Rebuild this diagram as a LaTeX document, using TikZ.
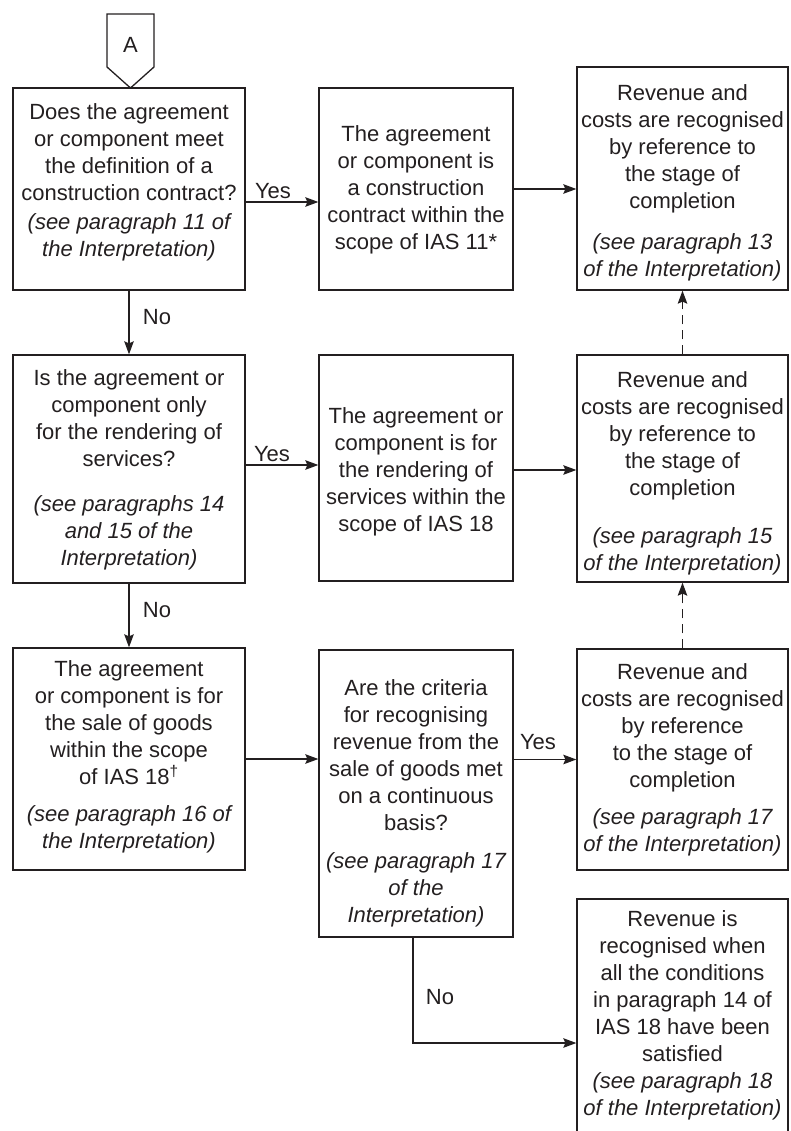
\documentclass[tikz,border=0pt]{standalone}
\usepackage{fontspec}
\setmainfont{Liberation Sans}
\usetikzlibrary{arrows.meta,calc}
\definecolor{ink}{HTML}{231F20}
\begin{document}
\begin{tikzpicture}[x=1pt,y=-1pt,
  box/.style={draw=ink, line width=1.3pt, inner sep=0pt, rectangle},
  txt/.style={text=ink, align=center, inner sep=0pt, font=\fontsize{22}{27}\selectfont},
  lbl/.style={text=ink, inner sep=0pt, font=\fontsize{22}{27}\selectfont},
  arr/.style={draw=ink, line width=1.3pt, -{Stealth[length=13pt,width=9.5pt,inset=2pt]}},
  dasharr/.style={arr, dash pattern=on 9pt off 6pt}]
\useasboundingbox (0,0) rectangle (791,1131);
\clip (0,0) rectangle (791,1131);
% connector A
\node[lbl] (pA) at (130.5,45) {A};
\draw[draw=ink, line width=1.3pt, line join=miter] (107,14) -- (154,14) -- (154,67) -- (130.5,88) -- (107,67) -- cycle;
% boxes
\node[box, minimum width=232, minimum height=202] (q1) at (129,189) {};
\node[box, minimum width=232, minimum height=228] (q2) at (129,469) {};
\node[box, minimum width=232, minimum height=222] (q3) at (129,759) {};
\node[box, minimum width=194, minimum height=202] (m1) at (416,189) {};
\node[box, minimum width=194, minimum height=226] (m2) at (416,468) {};
\node[box, minimum width=194, minimum height=287] (m3) at (416,793.5) {};
\node[box, minimum width=211, minimum height=223] (r1) at (682.5,178.5) {};
\node[box, minimum width=211, minimum height=227] (r2) at (682.5,468.5) {};
\node[box, minimum width=211, minimum height=221] (r3) at (682.5,759.5) {};
\node[box, minimum width=211, minimum height=246] (r4) at (682.5,1022) {};
% texts
\node[txt] (q1t) at (129,182) {Does the agreement\\or component meet\\the definition of a\\construction contract?\\[2pt]\itshape (see paragraph 11 of\\\itshape the Interpretation)};
\node[txt] (q2t) at (129,470) {Is the agreement or\\component only\\for the rendering of\\services?\\[18pt]\itshape (see paragraphs 14\\\itshape and 15 of the\\\itshape Interpretation)};
\node[txt] (q3t) at (129,756.5) {The agreement\\or component is for\\the sale of goods\\within the scope\\of IAS 18\textsuperscript{†}\\[10pt]\itshape (see paragraph 16 of\\\itshape the Interpretation)};
\node[txt] (m1t) at (416,190) {The agreement\\or component is\\a construction\\contract within the\\scope of IAS 11*};
\node[txt] (m2t) at (416,472) {The agreement or\\component is for\\the rendering of\\services within the\\scope of IAS 18};
\node[txt] (m3t) at (416,803.5) {Are the criteria\\for recognising\\revenue from the\\sale of goods met\\on a continuous\\basis?\\[11pt]\itshape (see paragraph 17\\\itshape of the\\\itshape Interpretation)};
\node[txt] (r1t) at (682.5,182.5) {Revenue and\\costs are recognised\\by reference to\\the stage of\\completion\\[14pt]\itshape (see paragraph 13\\\itshape of the Interpretation)};
\node[txt] (r2t) at (682.5,473) {Revenue and\\costs are recognised\\by reference to\\the stage of\\completion\\[21pt]\itshape (see paragraph 15\\\itshape of the Interpretation)};
\node[txt] (r3t) at (682.5,760) {Revenue and\\costs are recognised\\by reference\\to the stage of\\completion\\[10pt]\itshape (see paragraph 17\\\itshape of the Interpretation)};
\node[txt] (r4t) at (682.5,1015) {Revenue is\\recognised when\\all the conditions\\in paragraph 14 of\\IAS 18 have been\\satisfied\\\itshape (see paragraph 18\\\itshape of the Interpretation)};
% connectors
\coordinate (c1) at ($(q1.east)+(0,13)$);
\draw[arr] (c1) -- (c1 -| m1.west);
\draw[arr] (m1.east) -- (m1.east -| r1.west);
\draw[arr] (q1.south) -- (q2.north);
\coordinate (c2) at ($(q2.east)+(0,-4)$);
\draw[arr] (c2) -- (c2 -| m2.west);
\coordinate (c3) at ($(m2.east)+(0,2)$);
\draw[arr] (c3) -- (c3 -| r2.west);
\draw[arr] (q2.south) -- (q3.north);
\draw[arr] (q3.east) -- (q3.east -| m3.west);
\draw[arr] (r3.west -| m3.east) -- (r3.west);
\coordinate (c4) at ($(m3.south)+(-3,0)$);
\coordinate (c5) at ($(r4.west)+(0,21)$);
\draw[arr] (c4) -- (c4 |- c5) -- (c5);
\draw[dasharr] (r2.north) -- (r1.south);
\draw[dasharr] (r3.north) -- (r2.south);
% labels
\node[lbl] (y1) at (273,191) {Yes};
\node[lbl] (y2) at (272,454) {Yes};
\node[lbl] (y3) at (538,742.5) {Yes};
\node[lbl] (n1) at (157,317) {No};
\node[lbl] (n2) at (157,610) {No};
\node[lbl] (n3) at (440,997) {No};
\end{tikzpicture}
\end{document}
